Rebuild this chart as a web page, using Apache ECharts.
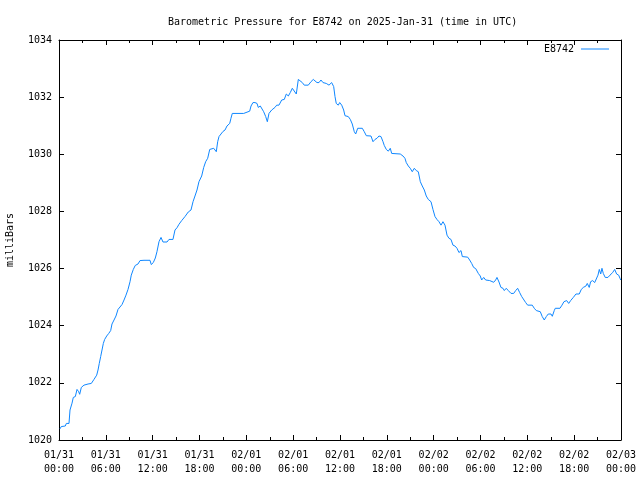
<!DOCTYPE html>
<html>
<head>
<meta charset="utf-8">
<script src="https://cdn.jsdelivr.net/npm/echarts@6/dist/echarts.min.js"></script>
<style>html,body{margin:0;padding:0;background:#fff}#c{width:640px;height:480px}</style>
</head>
<body>
<div id="c"></div>
<script>
// Hours since 2025-01-31 00:00 UTC
const hours = [0.13,0.29,0.81,0.94,1.28,1.41,1.67,1.83,2.09,2.31,2.52,2.65,2.86,3.20,3.37,3.72,3.88,4.14,4.48,4.83,5.00,5.16,5.34,5.51,5.68,5.85,6.11,6.37,6.62,6.79,7.05,7.30,7.56,7.81,8.07,8.33,8.58,8.84,9.10,9.26,9.52,9.77,10.12,10.38,10.63,10.89,11.66,11.82,12.08,12.34,12.55,12.81,13.07,13.32,13.84,14.09,14.60,14.86,15.12,15.37,15.72,16.14,16.56,16.91,17.17,17.42,17.68,17.93,18.28,18.54,18.79,19.05,19.31,19.82,20.15,20.33,20.50,20.75,21.01,21.27,21.52,21.87,22.03,22.20,23.66,23.83,24.43,24.60,24.85,25.11,25.37,25.53,25.79,25.97,26.22,26.48,26.69,26.90,27.25,27.50,27.67,27.89,28.18,28.53,28.86,29.12,29.38,29.63,29.89,30.14,30.40,30.66,30.87,31.17,31.42,31.94,32.28,32.58,32.80,33.05,33.31,33.56,33.82,34.24,34.59,34.93,35.19,35.36,35.52,35.78,35.96,36.22,36.47,36.64,37.06,37.32,37.57,37.83,38.01,38.27,38.56,38.86,39.11,39.37,39.97,40.23,40.48,40.74,40.99,41.25,41.51,41.67,41.93,42.19,42.44,42.62,43.72,44.07,44.32,44.49,44.75,45.00,45.26,45.52,45.77,46.03,46.29,46.54,46.80,47.05,47.31,47.66,47.91,48.17,48.42,48.68,48.94,49.19,49.45,49.71,49.96,50.22,50.47,50.73,50.99,51.24,51.50,51.67,52.36,52.61,52.87,53.12,53.38,53.72,53.97,54.15,54.41,54.66,55.18,55.43,55.69,55.94,56.11,56.37,56.62,56.88,57.05,57.30,57.56,57.91,58.25,58.51,58.76,59.02,59.28,59.53,59.79,60.04,60.63,60.89,61.15,61.66,61.91,62.17,62.43,62.68,63.03,63.20,63.45,63.58,64.18,64.44,64.69,65.04,65.30,65.55,65.89,66.23,66.65,66.91,67.17,67.51,67.68,67.93,68.11,68.37,68.63,68.88,69.05,69.22,69.40,69.56,69.73,69.98,70.33,70.59,70.93,71.19,71.44,71.70,71.87,71.96];
const pressure = [1020.39,1020.47,1020.49,1020.58,1020.58,1021.05,1021.29,1021.49,1021.52,1021.77,1021.69,1021.60,1021.84,1021.92,1021.98,1021.96,1021.89,1021.98,1022.12,1022.27,1022.45,1022.68,1022.92,1023.15,1023.38,1023.52,1023.64,1023.73,1023.83,1024.06,1024.20,1024.34,1024.57,1024.62,1024.74,1024.90,1025.07,1025.27,1025.54,1025.77,1025.97,1026.11,1026.16,1026.28,1026.23,1026.29,1026.29,1026.14,1026.21,1026.37,1026.59,1026.94,1027.09,1026.93,1026.93,1027.02,1027.02,1027.35,1027.43,1027.55,1027.68,1027.82,1027.98,1028.05,1028.34,1028.54,1028.75,1029.04,1029.24,1029.54,1029.74,1029.86,1030.17,1030.21,1030.09,1030.44,1030.62,1030.67,1030.80,1030.85,1030.99,1031.08,1031.26,1031.43,1031.43,1031.49,1031.51,1031.69,1031.81,1031.81,1031.78,1031.64,1031.69,1031.72,1031.49,1031.32,1031.14,1031.43,1031.55,1031.49,1031.64,1031.72,1031.72,1031.90,1031.92,1032.11,1032.04,1032.16,1032.31,1032.27,1032.11,1032.62,1032.62,1032.51,1032.42,1032.42,1032.54,1032.62,1032.58,1032.51,1032.51,1032.60,1032.51,1032.48,1032.42,1032.51,1032.37,1032.02,1031.78,1031.72,1031.81,1031.72,1031.55,1031.35,1031.32,1031.22,1031.06,1030.79,1030.71,1030.91,1030.91,1030.91,1030.79,1030.65,1030.64,1030.44,1030.52,1030.56,1030.64,1030.62,1030.44,1030.31,1030.17,1030.11,1030.21,1030.03,1030.01,1029.94,1029.86,1029.71,1029.59,1029.51,1029.39,1029.51,1029.43,1029.39,1029.04,1028.89,1028.75,1028.54,1028.42,1028.34,1028.07,1027.82,1027.72,1027.64,1027.52,1027.64,1027.52,1027.17,1027.06,1027.02,1026.82,1026.79,1026.71,1026.56,1026.63,1026.42,1026.40,1026.30,1026.18,1026.04,1026.00,1025.83,1025.74,1025.60,1025.69,1025.60,1025.58,1025.52,1025.52,1025.60,1025.69,1025.53,1025.34,1025.31,1025.23,1025.31,1025.23,1025.13,1025.13,1025.23,1025.31,1025.16,1025.02,1024.96,1024.81,1024.72,1024.72,1024.61,1024.53,1024.49,1024.32,1024.20,1024.32,1024.41,1024.41,1024.33,1024.53,1024.61,1024.61,1024.72,1024.84,1024.88,1024.78,1024.88,1024.99,1025.11,1025.11,1025.27,1025.34,1025.39,1025.48,1025.34,1025.54,1025.58,1025.51,1025.58,1025.77,1025.97,1025.81,1026.01,1025.83,1025.69,1025.69,1025.77,1025.86,1025.97,1025.81,1025.77,1025.66,1025.60];
const xTickLabels = ['01/31\n00:00','01/31\n06:00','01/31\n12:00','01/31\n18:00','02/01\n00:00','02/01\n06:00','02/01\n12:00','02/01\n18:00','02/02\n00:00','02/02\n06:00','02/02\n12:00','02/02\n18:00','02/03\n00:00'];
const seriesName = 'E8742';
const titleText = 'Barometric Pressure for E8742 on 2025-Jan-31 (time in UTC)';
const yName = 'milliBars';

const FONT = 'DejaVu Sans Mono';
const data = hours.map((h, i) => [h, pressure[i]]);
const chart = echarts.init(document.getElementById('c'), null, {renderer: 'canvas'});
const axisLine = {show: true, onZero: false, lineStyle: {color: '#000', width: 1}};
chart.setOption({
  animation: false,
  backgroundColor: '#fff',
  title: {text: titleText, left: 163, top: 12,
    textStyle: {fontFamily: FONT, fontSize: 10, fontWeight: 'normal', color: '#000'}},
  legend: {data: [seriesName], right: 26, top: 39, align: 'right', icon: 'rect',
    itemWidth: 28, itemHeight: 1, itemGap: 0,
    textStyle: {fontFamily: FONT, fontSize: 10, color: '#000', padding: [0, 2, 0, 0]}},
  grid: {left: 59, right: 19, top: 40, bottom: 40, containLabel: false, outerBoundsMode: 'none'},
  xAxis: [{
    type: 'value', min: 0, max: 72, interval: 6, position: 'bottom',
    axisLine: axisLine,
    axisTick: {show: true, inside: true, length: 5, lineStyle: {color: '#000'}},
    minorTick: {show: true, splitNumber: 2, length: 3, lineStyle: {color: '#000'}},
    splitLine: {show: false},
    axisLabel: {fontFamily: FONT, fontSize: 10, color: '#000', margin: 8, lineHeight: 14,
      hideOverlap: false, showMinLabel: true, showMaxLabel: true,
      formatter: v => xTickLabels[Math.round(v / 6)] || ''}
  }, {
    type: 'value', min: 0, max: 72, interval: 6, position: 'top',
    axisLine: axisLine,
    axisTick: {show: true, inside: true, length: 5, lineStyle: {color: '#000'}},
    minorTick: {show: true, splitNumber: 2, length: 3, lineStyle: {color: '#000'}},
    splitLine: {show: false}, axisLabel: {show: false}
  }],
  yAxis: [{
    type: 'value', min: 1020, max: 1034, interval: 2, position: 'left',
    name: yName, nameLocation: 'middle', nameRotate: 90, nameGap: 44,
    nameTextStyle: {fontFamily: FONT, fontSize: 10, color: '#000'},
    axisLine: axisLine,
    axisTick: {show: true, inside: true, length: 5, lineStyle: {color: '#000'}},
    splitLine: {show: false},
    axisLabel: {fontFamily: FONT, fontSize: 10, color: '#000', margin: 7, formatter: v => String(v)}
  }, {
    type: 'value', min: 1020, max: 1034, interval: 2, position: 'right',
    axisLine: axisLine,
    axisTick: {show: true, inside: true, length: 5, lineStyle: {color: '#000'}},
    splitLine: {show: false}, axisLabel: {show: false}
  }],
  series: [{
    name: seriesName, type: 'line', data: data, xAxisIndex: 0, yAxisIndex: 0,
    showSymbol: false, symbol: 'none',
    lineStyle: {color: '#0f87ff', width: 1}, itemStyle: {color: '#0f87ff'}
  }]
});
</script>
</body>
</html>
